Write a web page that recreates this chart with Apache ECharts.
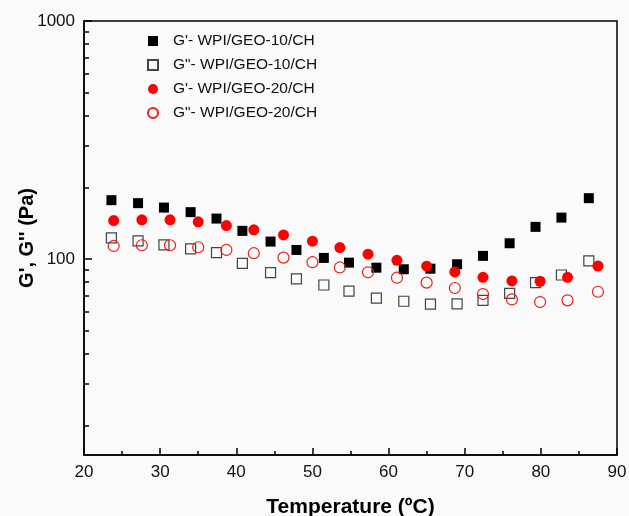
<!DOCTYPE html>
<html>
<head>
<meta charset="utf-8">
<script src="https://cdn.jsdelivr.net/npm/echarts@6/dist/echarts.min.js"></script>
<style>
html,body{margin:0;padding:0;background:#fafafa;}
#c{width:629px;height:516px;}
</style>
</head>
<body>
<div id="c"></div>
<script>
// ---- data ----
var tempA = [23.6, 27.1, 30.5, 34.0, 37.4, 40.8, 44.5, 47.9, 51.5, 54.8, 58.4, 62.0, 65.5, 69.0, 72.4, 75.9, 79.3, 82.7, 86.3];
var gp10  = [176.6, 171.6, 164.4, 157.3, 147.8, 131.2, 118.3, 109.1, 101.0, 96.5, 91.9, 90.5, 91.0, 95.0, 103.0, 116.4, 136.4, 149.2, 180.1];
var gpp10 = [122.6, 119.1, 114.5, 110.2, 106.3, 95.9, 87.6, 82.4, 77.7, 73.3, 68.5, 66.4, 64.6, 64.8, 67.0, 71.7, 79.5, 85.6, 98.1];
var tempB = [23.9, 27.6, 31.3, 35.0, 38.7, 42.3, 46.2, 50.0, 53.6, 57.3, 61.1, 65.0, 68.7, 72.4, 76.2, 79.9, 83.5, 87.5];
var gp20  = [145.0, 146.0, 146.0, 143.2, 138.1, 132.5, 126.2, 118.7, 111.6, 104.7, 98.7, 93.2, 88.2, 83.7, 80.8, 80.6, 83.7, 93.4];
var gpp20 = [113.4, 114.2, 114.2, 112.0, 109.1, 105.7, 101.3, 96.9, 92.1, 87.9, 83.4, 79.5, 75.5, 71.2, 67.6, 65.9, 67.0, 72.8];
var seriesNames = ["G'- WPI/GEO-10/CH", 'G"- WPI/GEO-10/CH', "G'- WPI/GEO-20/CH", 'G"- WPI/GEO-20/CH'];
var yMajor = [100, 1000];
var yMinor = [20, 30, 40, 50, 60, 70, 80, 90, 200, 300, 400, 500, 600, 700, 800, 900];

function pairs(xs, ys){ return xs.map(function(x,i){ return [x, ys[i]]; }); }

var FONT = 'Liberation Sans, Arial, sans-serif';
var chart = echarts.init(document.getElementById('c'), null, {renderer:'canvas'});
chart.setOption({
  backgroundColor: '#fafafa',
  animation: false,
  textStyle: {fontFamily: FONT},
  grid: {left: 84, right: 12, top: 21, bottom: 61, outerBoundsMode: 'none', containLabel: false,
         show: true, borderColor: '#000', borderWidth: 1.5, backgroundColor: 'transparent'},
  legend: {
    orient: 'vertical', left: 142, top: 28, itemGap: 8, itemWidth: 10, itemHeight: 10,
    textStyle: {fontFamily: FONT, fontSize: 15.5, color: '#111', padding: [0,0,0,10]},
    data: [
      {name: seriesNames[0]}, {name: seriesNames[1]}, {name: seriesNames[2]}, {name: seriesNames[3]}
    ]
  },
  xAxis: {
    type: 'value', min: 20, max: 90, interval: 10,
    name: 'Temperature (ºC)', nameLocation: 'middle', nameGap: 42, nameMoveOverlap: false,
    nameTextStyle: {fontFamily: FONT, fontSize: 21, fontWeight: 'bold', color: '#000'},
    axisLine: {lineStyle: {color: '#000', width: 1.5}},
    axisTick: {inside: true, length: 7, lineStyle: {color: '#000', width: 1.5}},
    minorTick: {show: true, splitNumber: 2, length: 4, lineStyle: {color: '#000', width: 1.5}},
    axisLabel: {fontFamily: FONT, fontSize: 17, color: '#111', margin: 9},
    splitLine: {show: false}
  },
  yAxis: [{
    type: 'log', logBase: 10, min: 15, max: 1000,
    name: "G', G'' (Pa)", nameLocation: 'middle', nameGap: 47, nameMoveOverlap: false,
    nameTextStyle: {fontFamily: FONT, fontSize: 20, fontWeight: 'bold', color: '#000'},
    axisLine: {show: true, lineStyle: {color: '#000', width: 1.5}},
    axisTick: {inside: true, length: 5, customValues: yMinor, lineStyle: {color: '#000', width: 1.5}},
    axisLabel: {fontFamily: FONT, fontSize: 17, color: '#111', margin: 9, customValues: yMajor,
                formatter: function(v){ return String(Math.round(v)); }},
    splitLine: {show: false}
  },{
    type: 'log', logBase: 10, min: 15, max: 1000, position: 'left',
    axisLine: {show: false},
    axisTick: {show: true, inside: true, length: 8, customValues: yMajor, lineStyle: {color: '#000', width: 1.5}},
    axisLabel: {show: false},
    splitLine: {show: false}
  }],
  series: [
    {name: seriesNames[0], type: 'scatter', symbol: 'rect', symbolSize: 10,
     itemStyle: {color: '#000', opacity: 1}, data: pairs(tempA, gp10)},
    {name: seriesNames[1], type: 'scatter', symbol: 'rect', symbolSize: 10,
     itemStyle: {color: 'rgba(255,255,255,0)', borderColor: '#444', borderWidth: 1.2, opacity: 1}, data: pairs(tempA, gpp10)},
    {name: seriesNames[2], type: 'scatter', symbol: 'circle', symbolSize: 11,
     itemStyle: {color: '#f00', opacity: 1}, data: pairs(tempB, gp20)},
    {name: seriesNames[3], type: 'scatter', symbol: 'circle', symbolSize: 11,
     itemStyle: {color: 'rgba(255,255,255,0)', borderColor: '#e8211c', borderWidth: 1.2, opacity: 1}, data: pairs(tempB, gpp20)}
  ]
});
</script>
</body>
</html>
